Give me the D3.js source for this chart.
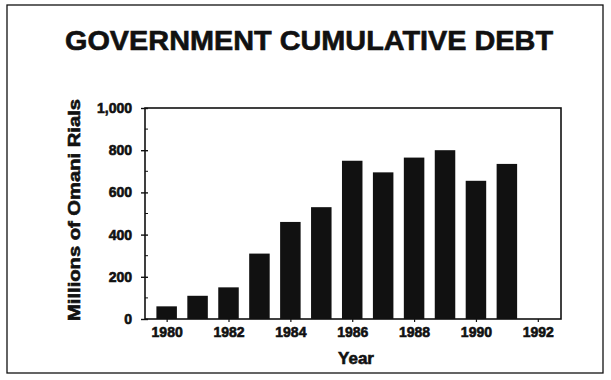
<!DOCTYPE html>
<html>
<head>
<meta charset="utf-8">
<script src="https://cdn.jsdelivr.net/npm/d3@7/dist/d3.min.js"></script>
<style>
  html, body { margin: 0; padding: 0; background: #fff; }
  svg { display: block; }
  text { font-family: "Liberation Sans", Arial, Helvetica, sans-serif; font-weight: bold; fill: #111; stroke: #111; stroke-width: 0.6; }
</style>
</head>
<body>
<svg id="chart" width="611" height="380"></svg>
<script>
// Government cumulative debt, millions of Omani rials
const years  = [1980, 1981, 1982, 1983, 1984, 1985, 1986, 1987, 1988, 1989, 1990, 1991];
const debt   = [60, 110, 150, 310, 460, 530, 750, 695, 765, 800, 655, 735];
const yTicks = [0, 200, 400, 600, 800, 1000];
const xTicks = [1980, 1982, 1984, 1986, 1988, 1990, 1992];

const svg = d3.select("#chart");
const ink = "#111";

const plot = { left: 145, right: 561, top: 108, bottom: 319 };

const x = d3.scaleLinear().domain([1979.3, 1992.75]).range([plot.left, plot.right]);
const y = d3.scaleLinear().domain([0, 1000]).range([plot.bottom, plot.top]);
const barW = 20.5;

// outer frame
svg.append("rect")
  .attr("x", 7).attr("y", 5).attr("width", 596).attr("height", 368)
  .attr("fill", "none").attr("stroke", ink).attr("stroke-width", 1.3);

// title
svg.append("text")
  .attr("x", 309).attr("y", 50)
  .attr("text-anchor", "middle")
  .attr("font-size", 27)
  .attr("stroke-width", 0.9)
  .attr("textLength", 488).attr("lengthAdjust", "spacingAndGlyphs")
  .text("GOVERNMENT CUMULATIVE DEBT");

// bars
svg.append("g").selectAll("rect")
  .data(years.map((yr, i) => ({ yr, v: debt[i] })))
  .join("rect")
  .attr("x", d => x(d.yr) - barW / 2)
  .attr("width", barW)
  .attr("y", d => y(d.v))
  .attr("height", d => y(0) - y(d.v))
  .attr("fill", ink);

// plot frame
svg.append("rect")
  .attr("x", plot.left).attr("y", plot.top)
  .attr("width", plot.right - plot.left).attr("height", plot.bottom - plot.top)
  .attr("fill", "none").attr("stroke", ink).attr("stroke-width", 1.6);

// y axis
const yAxis = svg.append("g")
  .attr("transform", `translate(${plot.left},0)`)
  .call(d3.axisLeft(y).tickValues(yTicks).tickSize(4).tickPadding(9)
    .tickFormat(d3.format(",")));
yAxis.select(".domain").remove();
yAxis.selectAll(".tick line").attr("stroke", ink).attr("stroke-width", 1.4).attr("x2", -4).attr("x1", 3);
yAxis.selectAll(".tick text").attr("font-size", 14).attr("font-family", null).attr("fill", ink);

// minor y ticks
svg.append("g").selectAll("line")
  .data(d3.range(100, 1000, 200))
  .join("line")
  .attr("x1", plot.left).attr("x2", plot.left + 3)
  .attr("y1", d => y(d)).attr("y2", d => y(d))
  .attr("stroke", ink).attr("stroke-width", 1);

// x axis
const xAxis = svg.append("g")
  .attr("transform", `translate(0,${plot.bottom})`)
  .call(d3.axisBottom(x).tickValues(xTicks).tickSize(3).tickPadding(5)
    .tickFormat(d3.format("d")));
xAxis.select(".domain").remove();
xAxis.selectAll(".tick line").attr("stroke", ink).attr("stroke-width", 1.2);
xAxis.selectAll(".tick text").attr("font-size", 14).attr("font-family", null).attr("fill", ink);

// axis titles
svg.append("text")
  .attr("x", 356).attr("y", 364)
  .attr("text-anchor", "middle")
  .attr("font-size", 17)
  .text("Year");

svg.append("text")
  .attr("transform", `translate(80,210) rotate(-90)`)
  .attr("text-anchor", "middle")
  .attr("font-size", 16)
  .attr("stroke-width", 0.7)
  .attr("textLength", 222).attr("lengthAdjust", "spacingAndGlyphs")
  .text("Millions of Omani Rials");
</script>
</body>
</html>
